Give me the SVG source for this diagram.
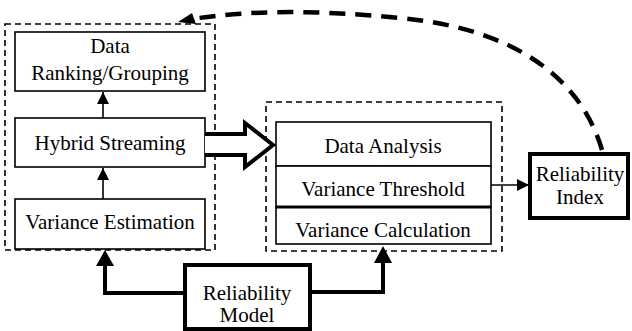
<svg xmlns="http://www.w3.org/2000/svg" width="632" height="331" viewBox="0 0 632 331">
<defs>
<style>
.box{fill:#fff;stroke:#000;stroke-width:1.6}
.thick{fill:#fff;stroke:#000;stroke-width:4}
.grp{fill:none;stroke:#000;stroke-width:1.6;stroke-dasharray:6,4}
text{font-size:21px;fill:#000;text-anchor:middle}
.ln{fill:none;stroke:#000;stroke-width:1.6}
.tk{fill:none;stroke:#000;stroke-width:4}
</style>
<marker id="ah" viewBox="0 0 10 10" refX="10" refY="5" markerWidth="12" markerHeight="12" markerUnits="userSpaceOnUse" orient="auto">
<path d="M0,0 L10,5 L0,10 z" fill="#000"/>
</marker>
</defs>
<g font-family="'Liberation Serif', 'Times New Roman', 'DejaVu Serif', serif">
<g id="group-left"><rect class="grp" x="5" y="24" width="210" height="226"/></g>
<g id="group-right"><rect class="grp" x="266" y="102" width="236" height="149"/></g>
<g id="data-ranking"><rect class="box" x="15" y="32" width="190" height="59"/><text x="110" y="53">Data</text><text x="110" y="80">Ranking/Grouping</text></g>
<g id="hybrid-streaming"><rect class="box" x="15" y="118" width="190" height="49"/><text x="110" y="150">Hybrid Streaming</text></g>
<g id="variance-estimation"><rect class="box" x="15" y="199" width="190" height="50"/><text x="110" y="229">Variance Estimation</text></g>
<g id="data-analysis"><rect class="box" x="276" y="122" width="215" height="44"/><text x="383" y="153">Data Analysis</text></g>
<g id="variance-threshold"><rect class="box" x="276" y="166" width="215" height="41"/><text x="383" y="196">Variance Threshold</text></g>
<g id="variance-calculation"><rect class="box" x="276" y="207" width="215" height="37"/><line x1="276" y1="207" x2="491" y2="207" stroke="#000" stroke-width="3"/><text x="383" y="237">Variance Calculation</text></g>
<g id="reliability-index"><rect class="thick" x="530" y="154" width="98" height="64"/><text x="580" y="181">Reliability</text><text x="580" y="204">Index</text></g>
<g id="reliability-model"><rect class="thick" x="185" y="265" width="125" height="64"/><text x="247" y="300">Reliability</text><text x="247" y="322">Model</text></g>
<g id="connectors">
<line class="ln" x1="103" y1="118" x2="103" y2="92" marker-end="url(#ah)"/>
<line class="ln" x1="103" y1="199" x2="103" y2="168" marker-end="url(#ah)"/>
<line class="ln" x1="491" y1="185" x2="529" y2="185" marker-end="url(#ah)"/>
<path class="tk" d="M185,293 H105 V265"/>
<path d="M96,266 L105,250 L114,266 z" fill="#000"/>
<path class="tk" d="M310,292 H383 V262"/>
<path d="M374,263 L383,246 L392,263 z" fill="#000"/>
<path d="M205,134 H245 V123 L273,145 L245,167 V155 H205" fill="#fff" stroke="#000" stroke-width="4" stroke-linejoin="miter"/>
<path d="M602,150 C580,75 510,28 400,18 C320,10 250,10 192,19" fill="none" stroke="#000" stroke-width="4.5" stroke-dasharray="16,10"/>
<path d="M178,22 L192,13 L196,24 z" fill="#000"/>
</g>
</g>
</svg>
